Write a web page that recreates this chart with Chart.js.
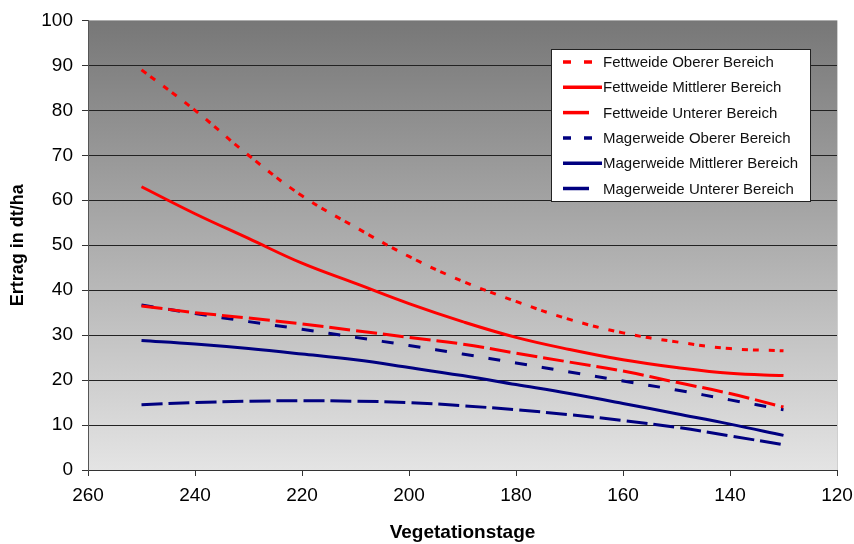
<!DOCTYPE html>
<html lang="de">
  <head>
    <meta charset="UTF-8" />
    <script src="https://cdn.jsdelivr.net/npm/chart.js@4/dist/chart.umd.min.js"></script>
    <title>Ertrag</title>
    <style>
      body { margin: 0; background: #fff; }
      #wrap { width: 854px; height: 544px; }
    </style>
  </head>
  <body>
    <div id="wrap"><canvas id="chart"></canvas></div>

    <script>
      // data
      const days = [250, 240, 230, 220, 210, 200, 190, 180, 170, 160, 150, 140, 130];
      const fettOben = [89, 80, 70, 61, 54, 47.5, 42, 37.5, 33.5, 30.5, 28.5, 27, 26.5];
      const fettMitte = [63, 57, 51.5, 46, 41.5, 37, 33, 29.5, 26.8, 24.5, 22.8, 21.5, 21];
      const fettUnten = [36.5, 35, 33.8, 32.5, 31, 29.5, 28, 26, 24, 22, 19.5, 17, 14];
      const magerOben = [36.7, 34.8, 33, 31.3, 29.5, 27.7, 25.8, 23.8, 21.8, 19.8, 17.8, 15.6, 13.4];
      const magerMitte = [28.8, 28, 27, 25.8, 24.5, 22.8, 21, 19, 17, 14.8, 12.5, 10.2, 7.7];
      const magerUnten = [14.5, 15, 15.3, 15.4, 15.3, 15, 14.3, 13.4, 12.3, 11, 9.5, 7.6, 5.6];
      const names = [
        "Fettweide Oberer Bereich",
        "Fettweide Mittlerer Bereich",
        "Fettweide Unterer Bereich",
        "Magerweide Oberer Bereich",
        "Magerweide Mittlerer Bereich",
        "Magerweide Unterer Bereich",
      ];

      const RED = "#ff0000";
      const BLUE = "#000080";
      const FONT = "'Liberation Sans', Arial, sans-serif";

      function pts(vals) {
        return vals.map((v, i) => ({ x: days[i], y: v }));
      }

      function ds(label, vals, color, dash, legendDash) {
        return {
          label: label,
          data: pts(vals),
          borderColor: color,
          backgroundColor: color,
          borderWidth: 3,
          borderDash: dash,
          legendDash: legendDash,
          pointRadius: 0,
          tension: 0.4,
          fill: false,
        };
      }

      // grey gradient behind the plot
      const bgPlugin = {
        id: "bg",
        beforeDraw(chart) {
          const a = chart.chartArea;
          const c = chart.ctx;
          const g = c.createLinearGradient(0, a.top, 0, a.bottom);
          g.addColorStop(0, "#777777");
          g.addColorStop(1, "#e4e4e4");
          c.save();
          c.fillStyle = g;
          c.fillRect(a.left, a.top, a.right - a.left, a.bottom - a.top);
          c.strokeStyle = "#cfcfcf";
          c.lineWidth = 1;
          c.beginPath();
          c.moveTo(a.right + 0.5, a.top);
          c.lineTo(a.right + 0.5, a.bottom);
          c.stroke();
          c.restore();
        },
      };

      // legend box inside the plot, top right
      const legendPlugin = {
        id: "boxLegend",
        afterDraw(chart) {
          const c = chart.ctx;
          c.save();
          c.fillStyle = "#ffffff";
          c.fillRect(551, 49, 259, 152);
          c.strokeStyle = "#222";
          c.lineWidth = 1;
          c.strokeRect(551.5, 49.5, 259, 152);
          c.font = "15px " + FONT;
          c.textBaseline = "middle";
          chart.data.datasets.forEach((d, i) => {
            const y = 62 + i * 25.3;
            c.strokeStyle = d.borderColor;
            c.lineWidth = 3.5;
            c.setLineDash(d.legendDash);
            c.beginPath();
            c.moveTo(563, y);
            c.lineTo(d.legendDash.length ? (d.legendDash[0] > 10 ? 589 : 592) : 602, y);
            c.stroke();
            c.setLineDash([]);
            c.fillStyle = "#111";
            c.fillText(d.label, 603, y + 1);
          });
          c.restore();
        },
      };

      const ctx = document.getElementById("chart").getContext("2d");
      const myChart = new Chart(ctx, {
        type: "line",
        data: {
          datasets: [
            ds(names[0], fettOben, RED, [6, 5, 6, 10], [8, 13]),
            ds(names[1], fettMitte, RED, [], []),
            ds(names[2], fettUnten, RED, [21, 6], [26, 20]),
            ds(names[3], magerOben, BLUE, [12, 15], [8, 13]),
            ds(names[4], magerMitte, BLUE, [], []),
            ds(names[5], magerUnten, BLUE, [21, 6], [26, 20]),
          ],
        },
        plugins: [bgPlugin, legendPlugin],
        options: {
          responsive: true,
          maintainAspectRatio: false,
          animation: false,
          layout: { padding: { left: 0, right: 0, top: 18, bottom: 0 } },
          plugins: {
            legend: { display: false },
            tooltip: { enabled: false },
          },
          scales: {
            x: {
              type: "linear",
              min: 120,
              max: 260,
              reverse: true,
              afterFit(s) {
                s.height = 74;
                s.paddingRight = 17;
                s.paddingLeft = 0;
              },
              ticks: { stepSize: 20, color: "#000", padding: 8, font: { family: FONT, size: 19 } },
              grid: { drawOnChartArea: false, drawTicks: true, tickLength: 6, tickColor: "#333" },
              border: { color: "#333", width: 1 },
              title: {
                display: true,
                text: "Vegetationstage",
                color: "#000",
                font: { family: FONT, size: 19, weight: "bold" },
                padding: { top: 0, bottom: 0 },
              },
            },
            y: {
              min: 0,
              max: 100,
              afterFit(s) { s.width = 88; },
              ticks: { stepSize: 10, color: "#000", padding: 9, font: { family: FONT, size: 19 } },
              grid: {
                color: (c) => (c.tick && c.tick.value === 100 ? "rgba(0,0,0,0)" : "#222"),
                tickColor: "#333",
                tickLength: 6,
                lineWidth: 1,
              },
              border: { color: "#555", width: 1 },
              title: {
                display: true,
                text: "Ertrag in dt/ha",
                color: "#000",
                font: { family: FONT, size: 18, weight: "bold" },
                padding: { top: 7, bottom: 0 },
              },
            },
          },
        },
      });
    </script>
  </body>
</html>
